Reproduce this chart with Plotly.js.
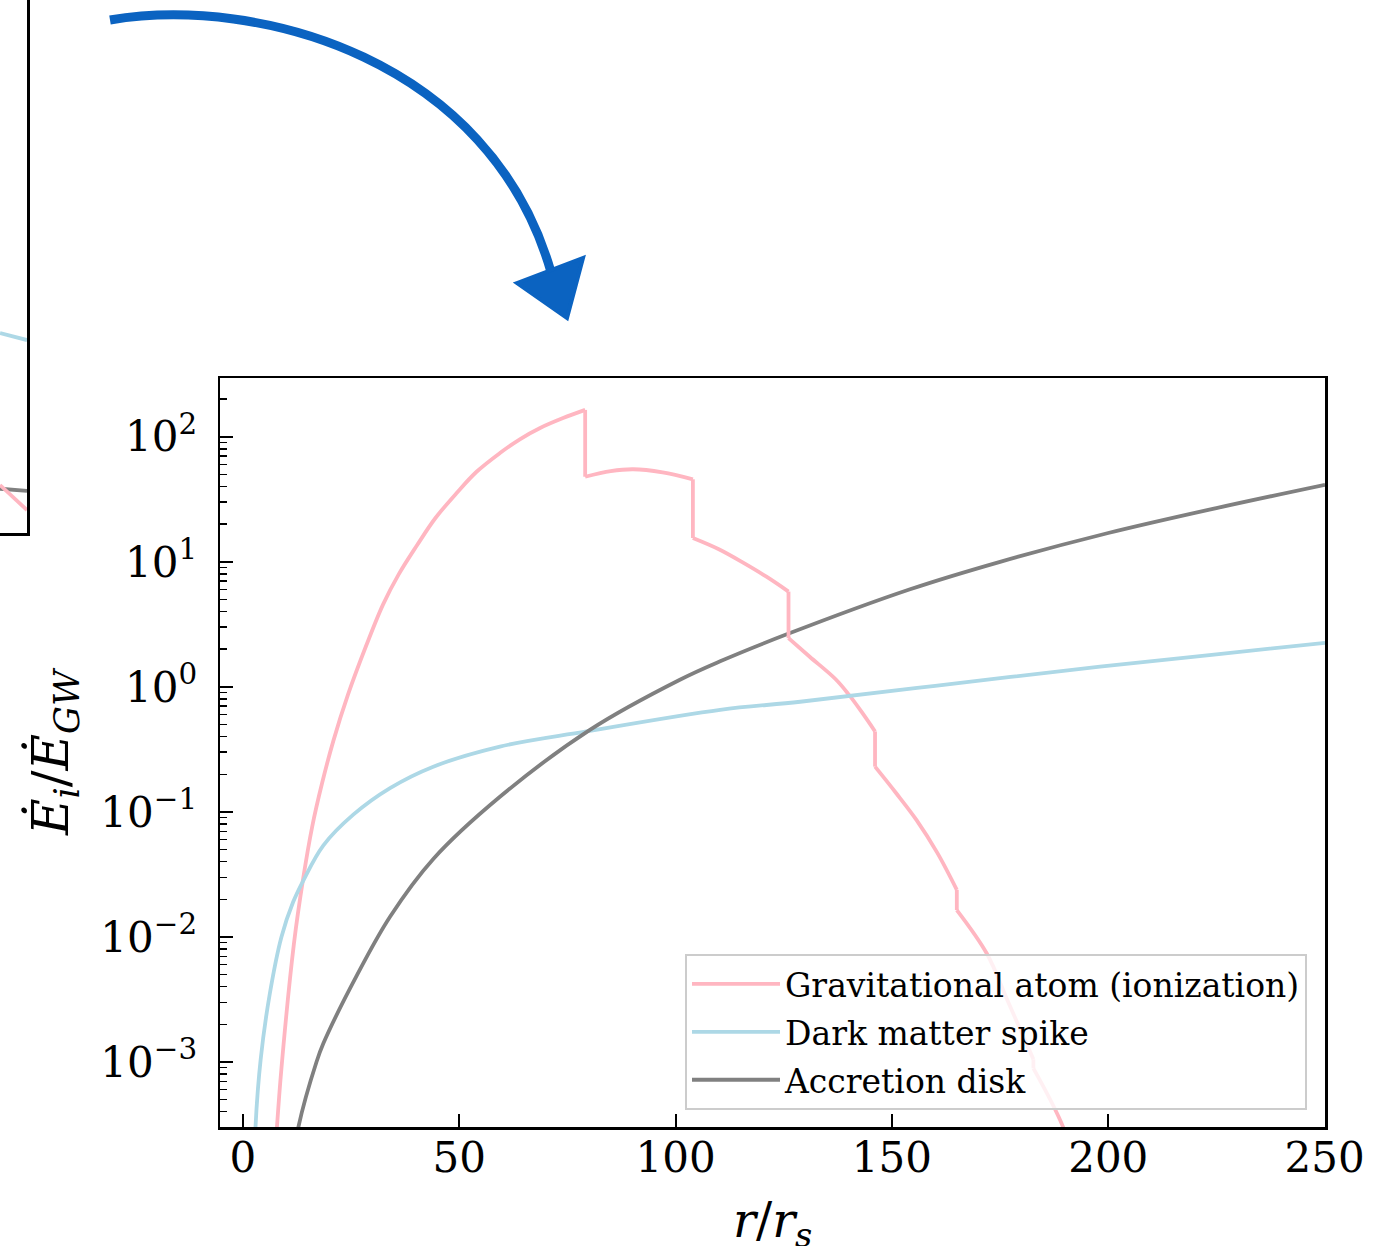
<!DOCTYPE html>
<html>
<head>
<meta charset="utf-8">
<script src="https://cdn.plot.ly/plotly-3.0.1.min.js"></script>
<style>html,body{margin:0;padding:0;background:#fff;}#chart{width:1392px;height:1246px;}</style>
</head>
<body>
<div id="chart"></div>
<script>
// ---------- data ----------
const seriesNames = ["Gravitational atom (ionization)", "Dark matter spike", "Accretion disk"];

// repeated r values mark the vertical steps of the ionization curve
const rAtom = [7.0, 7.8, 8.9, 11.8, 13.9, 16.0, 18.3, 20.9, 24.3, 28.5, 32.4, 36.0, 40.2, 44.5, 49.4, 54.0, 59.4, 64.0, 68.7, 74.0, 79.1,
               79.1, 85.0, 90.2, 97.0, 104.0,
               104.0, 110.0, 115.7, 121.0, 126.1,
               126.1, 131.0, 137.0, 140.0, 143.0, 146.1,
               146.1, 151.0, 155.7, 160.5, 165.0,
               165.0, 171.9, 177.0, 182.7,
               182.7, 189.6, 193.0];
const eAtom = [1.0e-4, 2.8e-4, 8.9e-4, 8.9e-3, 2.9e-2, 7.6e-2, 0.17, 0.37, 0.87, 2.14, 4.57, 7.94, 13.5, 22.4, 35.5, 52.5, 74.1, 95.5, 117.5, 141, 164,
               47.9, 53.1, 55.0, 51.9, 45.7,
               15.5, 12.6, 9.8, 7.6, 5.78,
               2.45, 1.74, 1.15, 0.87, 0.63, 0.44,
               0.23, 0.141, 0.086, 0.047, 0.0238,
               0.0164, 0.0074, 0.00295, 0.00105,
               0.00089, 0.0003, 0.00012];

const rSpike = [2.7, 2.9, 4.1, 6.2, 8.9, 11.6, 13.9, 18.6, 25.5, 34.0, 44.0, 59.4, 79.4, 110.3, 128.8, 160.0, 198.1, 225.0, 250.1];
const eSpike = [1.5e-4, 3.0e-4, 1.05e-3, 3.5e-3, 1.0e-2, 1.9e-2, 2.8e-2, 5.4e-2, 9.5e-2, 0.155, 0.23, 0.333, 0.44, 0.655, 0.76, 1.02, 1.45, 1.82, 2.25];

const rDisk = [11.8, 12.8, 17.0, 18.6, 26.3, 34.0, 44.0, 59.4, 80.2, 101.0, 110.3, 125.7, 154.2, 175.0, 200.0, 225.0, 250.1];
const eDisk = [1.8e-4, 3.0e-4, 1.0e-3, 1.41e-3, 4.9e-3, 1.45e-2, 4.2e-2, 0.132, 0.453, 1.14, 1.60, 2.63, 6.03, 10.0, 17.0, 26.9, 41.3];

const xTicks = [0, 50, 100, 150, 200, 250];
const yTicks = [1e-3, 1e-2, 1e-1, 1, 10, 100];
const yTickText = ["10<sup>\u22123</sup>", "10<sup>\u22122</sup>", "10<sup>\u22121</sup>", "10<sup>0</sup>", "10<sup>1</sup>", "10<sup>2</sup>"];

const xTitle = "<i>r</i>/<i>r</i><sub><i>s</i></sub>";
const yTitle = "<i>\u0116</i><sub><i>i</i></sub>/<i>\u0116</i><sub><i>GW</i></sub>";

// fragment of the neighbouring (cropped) panel at the upper left
const rPrev = [244, 250];
const spikePrev = [0.375, 0.362];
const diskPrev = [0.083, 0.079];
const atomPrev = [0.090, 0.043];
const prevTicks = [250];
const prevTickText = ["250"];

// ---------- styling ----------
const W = 1392, H = 1246;
const colAtom = "#FFB6C1", colSpike = "#ADD8E6", colDisk = "#808080";
const FONT = "DejaVu Serif, serif";
const lw = 3.8;

const px2x = p => p / W;
const py2y = p => 1 - p / H;

// split the stepped series into smooth pieces and vertical drops
function splitSteps(xs, ys) {
  const sx = [], sy = [], dx = [], dy = [];
  for (let i = 0; i < xs.length; i++) {
    if (i > 0 && xs[i] === xs[i - 1]) {
      sx.push(null); sy.push(null);
      dx.push(xs[i - 1], xs[i], null); dy.push(ys[i - 1], ys[i], null);
    }
    sx.push(xs[i]); sy.push(ys[i]);
  }
  return {sx, sy, dx, dy};
}
const atomParts = splitSteps(rAtom, eAtom);

const traces = [
  {x: atomParts.sx, y: atomParts.sy, name: seriesNames[0], legendgroup: "atom", type: "scatter", mode: "lines", connectgaps: false,
   line: {color: colAtom, width: lw, shape: "spline", smoothing: 1}, xaxis: "x", yaxis: "y"},
  {x: rSpike, y: eSpike, name: seriesNames[1], legendgroup: "spike", type: "scatter", mode: "lines",
   line: {color: colSpike, width: lw, shape: "spline", smoothing: 1}, xaxis: "x", yaxis: "y"},
  {x: rDisk, y: eDisk, name: seriesNames[2], legendgroup: "disk", type: "scatter", mode: "lines",
   line: {color: colDisk, width: lw, shape: "spline", smoothing: 1}, xaxis: "x", yaxis: "y"},
  {x: atomParts.dx, y: atomParts.dy, legendgroup: "atom", showlegend: false, type: "scatter", mode: "lines", connectgaps: false,
   line: {color: colAtom, width: lw}, xaxis: "x", yaxis: "y"},
  {x: rPrev, y: spikePrev, showlegend: false, type: "scatter", mode: "lines", line: {color: colSpike, width: lw}, xaxis: "x2", yaxis: "y2"},
  {x: rPrev, y: diskPrev, showlegend: false, type: "scatter", mode: "lines", line: {color: colDisk, width: lw}, xaxis: "x2", yaxis: "y2"},
  {x: rPrev, y: atomPrev, showlegend: false, type: "scatter", mode: "lines", line: {color: colAtom, width: lw}, xaxis: "x2", yaxis: "y2"}
];

// minor ticks for the log axis
const minorVals = [];
for (let e = -4; e <= 2; e++) for (let m = 2; m <= 9; m++) minorVals.push(m * Math.pow(10, e));

// hand-drawn style arrow (decoration, in pixel space -> paper)
function P(x, y) { return px2x(x).toFixed(5) + "," + py2y(y).toFixed(5); }
const arrowPath = "M" + P(110, 20) + " C" + P(260, -5) + " " + P(490, 60) + " " + P(551, 272);
const headPath = "M" + P(517, 283) + " L" + P(583, 258) + " L" + P(567, 318) + " Z";
const arrowCol = "#0b63c1";

const axLine = {showline: true, linecolor: "black", linewidth: 2.5, showgrid: false, zeroline: false};

const layout = {
  width: W, height: H,
  margin: {l: 0, r: 0, t: 0, b: 0},
  paper_bgcolor: "white", plot_bgcolor: "white",
  font: {family: FONT, color: "black", size: 42},
  showlegend: true,
  legend: {
    x: px2x(1307), xanchor: "right", y: py2y(1110), yanchor: "bottom",
    bgcolor: "rgba(255,255,255,0.8)", bordercolor: "#cccccc", borderwidth: 2,
    font: {family: FONT, size: 33, color: "black"}, itemwidth: 88,
    traceorder: "grouped", tracegroupgap: 2
  },
  xaxis: Object.assign({}, axLine, {
    domain: [px2x(220), px2x(1325)], anchor: "y",
    range: [-5.3, 250.1], mirror: true,
    tickmode: "array", tickvals: xTicks,
    ticks: "inside", ticklen: 13, tickwidth: 2, tickcolor: "black",
    tickfont: {family: FONT, size: 42, color: "black"}, ticklabelstandoff: -8
  }),
  yaxis: Object.assign({}, axLine, {
    domain: [py2y(1127), py2y(378)], anchor: "x",
    type: "log", range: [-3.52, 2.47], mirror: true,
    tickmode: "array", tickvals: yTicks, ticktext: yTickText,
    ticks: "inside", ticklen: 13, tickwidth: 2, tickcolor: "black",
    minor: {tickmode: "array", tickvals: minorVals, ticks: "inside", ticklen: 7, tickwidth: 1.5, tickcolor: "black", showgrid: false},
    tickfont: {family: FONT, size: 42, color: "black"}, ticklabelstandoff: 12,
    title: {text: yTitle, font: {family: FONT, size: 50, color: "black"}, standoff: 16}
  }),
  xaxis2: Object.assign({}, axLine, {
    domain: [0, px2x(27)], anchor: "y2", range: [244, 250],
    tickmode: "array", tickvals: prevTicks, ticktext: prevTickText, ticks: "",
    tickfont: {family: FONT, size: 42, color: "black"}
  }),
  yaxis2: Object.assign({}, axLine, {
    domain: [py2y(533), 1], anchor: "x2", side: "right", range: [0, 1],
    showticklabels: false, ticks: ""
  }),
  annotations: [
    {text: xTitle, xref: "paper", yref: "paper", x: px2x(772.5), y: py2y(1223), xanchor: "center", yanchor: "middle",
     showarrow: false, font: {family: FONT, size: 48, color: "black"}}
  ],
  shapes: [
    {type: "path", xref: "paper", yref: "paper", path: arrowPath, line: {color: arrowCol, width: 9}, fillcolor: "rgba(0,0,0,0)", layer: "above"},
    {type: "path", xref: "paper", yref: "paper", path: headPath, line: {color: arrowCol, width: 4}, fillcolor: arrowCol, layer: "above"}
  ]
};

Plotly.newPlot("chart", traces, layout, {staticPlot: true, displayModeBar: false});
</script>
</body>
</html>
